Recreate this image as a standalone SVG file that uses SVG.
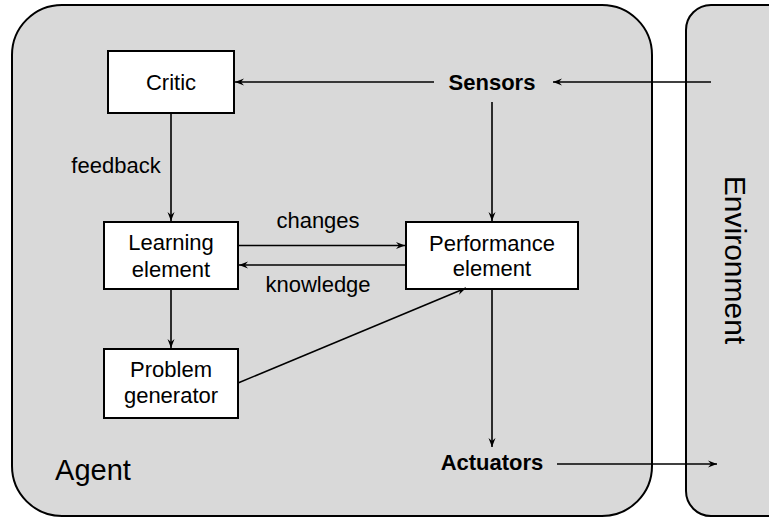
<svg xmlns="http://www.w3.org/2000/svg" width="769" height="518" viewBox="0 0 769 518">
<style>
.frame{fill:#d9d9d9;stroke:#000;stroke-width:2}
.box{fill:#fff;stroke:#000;stroke-width:2}
.t{font-family:"Liberation Sans",Arial,sans-serif;font-size:22px;text-anchor:middle;fill:#000}
.b{font-weight:bold}
.c{stroke:#000;stroke-width:1.6;fill:none}
</style>
<defs>
<marker id="ah" markerWidth="10" markerHeight="8" refX="9" refY="4" orient="auto" markerUnits="userSpaceOnUse">
<path d="M0,0.5 L9,4 L0,7.5 L3,4 z" fill="#000"/>
</marker>
</defs>
<rect width="769" height="518" fill="#fff"/>
<g id="agent">
<rect class="frame" x="12" y="5" width="640" height="511" rx="50" ry="50"/>
<text class="t" x="93" y="480" style="font-size:29px">Agent</text>
</g>
<g id="environment">
<rect class="frame" x="686" y="5" width="120" height="511" rx="25" ry="25"/>
<text class="t" transform="translate(725,260) rotate(90)" style="font-size:30px">Environment</text>
</g>
<g id="sensors"><text class="t b" x="492" y="90">Sensors</text></g>
<g id="actuators"><text class="t b" x="492" y="470">Actuators</text></g>
<g id="critic">
<rect class="box" x="108" y="51" width="126" height="62"/>
<text class="t" x="171" y="90">Critic</text>
</g>
<g id="learning">
<rect class="box" x="104" y="222" width="134" height="67"/>
<text class="t" x="171" y="250">Learning</text>
<text class="t" x="171" y="277">element</text>
</g>
<g id="performance">
<rect class="box" x="406" y="222" width="172" height="67"/>
<text class="t" x="492" y="251">Performance</text>
<text class="t" x="492" y="276">element</text>
</g>
<g id="problem">
<rect class="box" x="104" y="349" width="134" height="69"/>
<text class="t" x="171" y="377">Problem</text>
<text class="t" x="171" y="403">generator</text>
</g>
<g id="connectors">
<line class="c" x1="711" y1="82" x2="553" y2="82" marker-end="url(#ah)"/>
<line class="c" x1="434" y1="82" x2="235" y2="82" marker-end="url(#ah)"/>
<line class="c" x1="492" y1="102" x2="492" y2="221" marker-end="url(#ah)"/>
<line class="c" x1="171" y1="113" x2="171" y2="221" marker-end="url(#ah)"/>
<text class="t" x="116" y="173">feedback</text>
<line class="c" x1="238" y1="245.5" x2="405" y2="245.5" marker-end="url(#ah)"/>
<text class="t" x="318" y="228">changes</text>
<line class="c" x1="406" y1="265" x2="239" y2="265" marker-end="url(#ah)"/>
<text class="t" x="318" y="292">knowledge</text>
<line class="c" x1="171" y1="289" x2="171" y2="348" marker-end="url(#ah)"/>
<line class="c" x1="238" y1="383" x2="466" y2="288" marker-end="url(#ah)"/>
<line class="c" x1="492" y1="289" x2="492" y2="447" marker-end="url(#ah)"/>
<line class="c" x1="557" y1="464" x2="717" y2="464" marker-end="url(#ah)"/>
</g>
</svg>
